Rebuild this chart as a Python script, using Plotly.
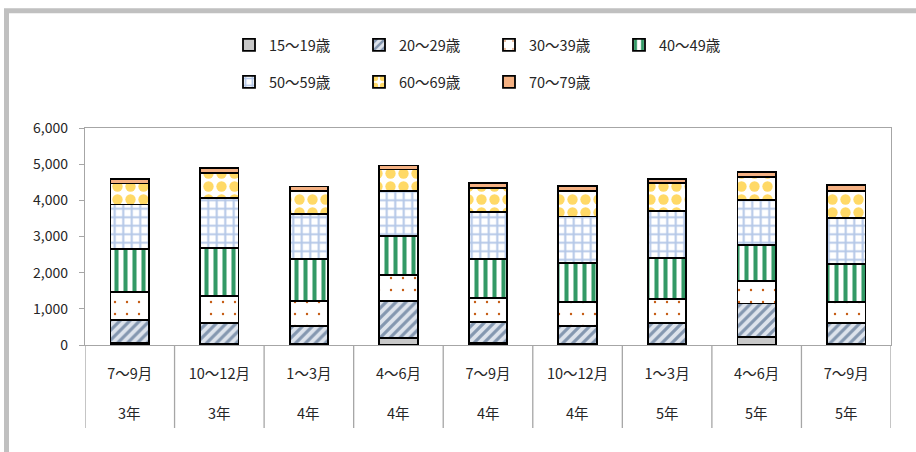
import plotly.graph_objects as go

months = ["7～9月", "10～12月", "1～3月", "4～6月", "7～9月", "10～12月", "1～3月", "4～6月", "7～9月"]
years = ["3年", "3年", "4年", "4年", "4年", "4年", "5年", "5年", "5年"]

age_groups = ["15～19歳", "20～29歳", "30～39歳", "40～49歳", "50～59歳", "60～69歳", "70～79歳"]

v15_19 = [60, 40, 35, 200, 50, 30, 40, 230, 40]
v20_29 = [640, 560, 500, 1010, 580, 495, 560, 920, 575]
v30_39 = [765, 755, 690, 720, 665, 665, 665, 615, 580]
v40_49 = [1195, 1335, 1145, 1075, 1085, 1085, 1135, 995, 1035]
v50_59 = [1225, 1365, 1245, 1250, 1305, 1280, 1315, 1245, 1290]
v60_69 = [580, 690, 645, 600, 665, 700, 755, 645, 745]
v70_79 = [120, 145, 120, 110, 130, 140, 125, 130, 150]

series = [v15_19, v20_29, v30_39, v40_49, v50_59, v60_69, v70_79]

styles = [
    dict(shape="", fg="#c8c8c8", bg="#c8c8c8", size=8, sol=0.3),
    dict(shape="/", fg="#8497b0", bg="#dde3ec", size=7, sol=0.45),
    dict(shape=".", fg="#c55a11", bg="#ffffff", size=12, sol=0.03),
    dict(shape="|", fg="#339966", bg="#ffffff", size=9, sol=0.45),
    dict(shape="+", fg="#b4c7e7", bg="#ffffff", size=8.5, sol=0.42),
    dict(shape=".", fg="#ffd966", bg="#ffffff", size=13, sol=0.5),
    dict(shape="", fg="#f4b183", bg="#f4b183", size=8, sol=0.3),
]

W, H = 916, 452
L, R, T, B = 85, 25, 128, 107
pw, ph = W - L - R, H - T - B

def px_x(p):
    return (p - L) / pw

def px_y(p):
    return (H - B - p) / ph

x = list(range(len(months)))
fig = go.Figure()
for i, (name, vals, st) in enumerate(zip(age_groups, series, styles)):
    pattern = dict(shape=st["shape"], fgcolor=st["fg"], bgcolor=st["bg"],
                   size=st["size"], solidity=st["sol"], fillmode="replace")
    fig.add_trace(go.Bar(
        x=x, y=vals, name=name, width=0.43,
        marker=dict(color=st["bg"], pattern=pattern,
                    line=dict(color="#000000", width=1.8)),
        legend="legend" if i < 4 else "legend2",
        hoverinfo="skip",
    ))

font_family = "Noto Sans CJK JP"
txt_color = "#262626"
fs = 14.5

legend_common = dict(orientation="h", entrywidth=85, entrywidthmode="pixels",
                     xanchor="left", yanchor="middle", bgcolor="rgba(0,0,0,0)",
                     font=dict(family=font_family, size=fs, color=txt_color),
                     itemclick=False, itemdoubleclick=False, traceorder="normal")

shapes = []
# category dividers below the axis
for k in range(len(months) + 1):
    shapes.append(dict(type="line", xref="x", yref="paper", x0=k - 0.5, x1=k - 0.5,
                       y0=0, y1=px_y(428), line=dict(color="#a6a6a6", width=1.3)))
# outer chart frame
shapes.append(dict(type="rect", xref="paper", yref="paper",
                   x0=px_x(6.5), x1=px_x(940), y0=px_y(10.7), y1=px_y(480),
                   line=dict(color="#c0c0c0", width=5), layer="below"))

annotations = []
for i, yr in enumerate(years):
    annotations.append(dict(x=i, xref="x", y=px_y(412), yref="paper", text=yr,
                            showarrow=False, xanchor="center", yanchor="middle",
                            font=dict(family=font_family, size=fs, color=txt_color)))

fig.update_layout(
    width=W, height=H,
    margin=dict(l=L, r=R, t=T, b=B),
    barmode="stack",
    plot_bgcolor="#ffffff",
    paper_bgcolor="#ffffff",
    font=dict(family=font_family, size=fs, color=txt_color),
    showlegend=True,
    legend=dict(x=px_x(229), y=px_y(45), **legend_common),
    legend2=dict(x=px_x(229), y=px_y(82), **legend_common),
    shapes=shapes,
    annotations=annotations,
    xaxis=dict(range=[-0.5, len(months) - 0.5], tickvals=x, ticktext=months,
               showgrid=False, zeroline=False, showline=True, linecolor="#a6a6a6",
               linewidth=1.3, mirror=True, ticks="", ticklabelstandoff=15,
               tickfont=dict(family=font_family, size=fs, color=txt_color)),
    yaxis=dict(range=[0, 6000], dtick=1000, tickformat=",", showgrid=False,
               zeroline=False, showline=True, linecolor="#a6a6a6", linewidth=1.3,
               mirror=True, ticks="outside", ticklen=5, tickcolor="#a6a6a6",
               ticklabelstandoff=8,
               tickfont=dict(family=font_family, size=14, color=txt_color)),
)

fig.write_html("out.html", config={"displayModeBar": False},
               post_script="document.body.style.margin='0px';")
